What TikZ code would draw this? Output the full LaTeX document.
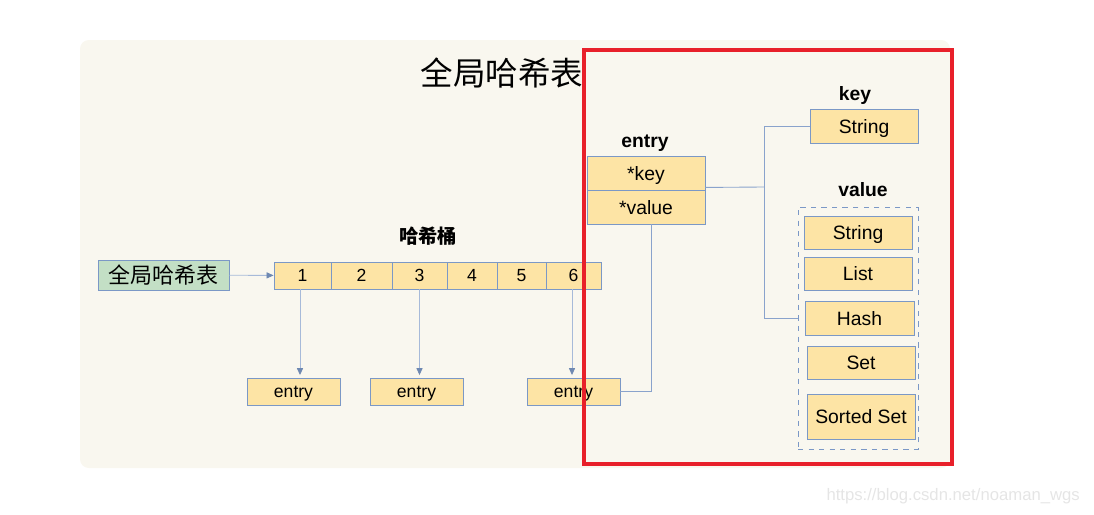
\documentclass[tikz,border=0pt]{standalone}
\usepackage{fontspec}
\setmainfont{Liberation Sans}
\newfontfamily\cjk{Noto Sans CJK SC}
\usepackage{tikz}
\usetikzlibrary{arrows.meta, positioning, calc}
\definecolor{panel}{HTML}{F9F7EF}
\definecolor{cellfill}{HTML}{FDE4A5}
\definecolor{cellline}{HTML}{7B98C6}
\definecolor{greenfill}{HTML}{C3DFC5}
\definecolor{linkline}{HTML}{8AA3CC}
\definecolor{redframe}{HTML}{E8202A}

\begin{document}
\begin{tikzpicture}[
			x=0.02cm, y=-0.02cm,
			every node/.style={font=\fontsize{11pt}{13pt}\selectfont},
			box/.style={draw=cellline, fill=cellfill, line width=0.5pt, inner sep=0pt, text depth=0pt, minimum width=2.16cm, minimum height=0.68cm},
			bucket/.style={draw=cellline, fill=cellfill, line width=0.5pt, inner sep=0pt, text depth=0pt, minimum height=0.54cm, font=\fontsize{10pt}{12pt}\selectfont},
			entrybox/.style={box, minimum width=1.86cm, minimum height=0.54cm, font=\fontsize{10pt}{12pt}\selectfont},
			head/.style={font=\fontsize{11pt}{13pt}\selectfont\bfseries},
			link/.style={draw=linkline, line width=0.5pt},
			arrow/.style={draw=linkline!75, line width=0.5pt, -{Triangle[length=4pt, width=3.5pt, fill=cellline!90!black, color=cellline!90!black]}},
			]
			
			\useasboundingbox (0,0) rectangle (1094,514);
			\fill[panel, rounded corners=5pt] (80,40) rectangle (950,468);
			
			\node (title) at (502,73) {\cjk\fontsize{18.5pt}{22pt}\selectfont 全局哈希表};
			
			% global table and buckets
			\node[draw=cellline, fill=greenfill, line width=0.5pt, minimum width=2.62cm, minimum height=0.6cm, inner sep=0pt] (gtable) at (163.5,275) {\cjk\fontsize{12.5pt}{14pt}\selectfont 全局哈希表};
			
			\node[head] (bkthead) at (428,236) {\cjk\bfseries 哈希桶};
			\node[bucket, minimum width=1.14cm] (b1) at (302.5,275.5) {1};
			\node[bucket, minimum width=1.22cm] (b2) at (361.5,275.5) {2};
			\node[bucket, minimum width=1.10cm] (b3) at (419.5,275.5) {3};
			\node[bucket, minimum width=1.00cm] (b4) at (472,275.5) {4};
			\node[bucket, minimum width=0.98cm] (b5) at (521.5,275.5) {5};
			\node[bucket, minimum width=1.10cm] (b6) at (573.5,275.5) {6};
			
			\draw[arrow] (gtable) -- (b1);
			
			\node[entrybox] (e1) at (293.5,391.5) {entry};
			\node[entrybox] (e2) at (416.5,391.5) {entry};
			\node[entrybox] (e3) at (573.5,391.5) {entry};
			
			\draw[arrow] ([xshift=-0.05cm]b1.south) -- ([xshift=-0.05cm, yshift=0.05cm]b1.south |- e1.north);
			\draw[arrow] (b3.south) -- ([yshift=0.05cm]b3.south |- e2.north);
			\draw[arrow] ([xshift=-0.03cm]b6.south) -- ([xshift=-0.03cm, yshift=0.05cm]b6.south |- e3.north);
			
			% entry structure
			\node[head] (entryhead) at (645,143) {entry};
			\node[box, minimum width=2.36cm] (ekey) at (646,173) {*key};
			\node[box, minimum width=2.36cm] (evalue) at (646,207) {*value};
			
			\node[head] (keyhead) at (855,95) {key};
			\node[box] (kstr) at (864,126) {String};
			
			\node[head] (valhead) at (863,190) {value};
			\node[draw=cellline, dashed, line width=0.5pt, minimum width=2.4cm, minimum height=4.84cm, inner sep=0pt] (vbox) at (858,328) {};
			\node[box, minimum height=0.66cm] (vstr) at (858,232.5) {String};
			\node[box, minimum height=0.66cm] (vlist) at (858,273.5) {List};
			\node[box, minimum width=2.18cm] (vhash) at (859.5,318) {Hash};
			\node[box, minimum height=0.66cm] (vset) at (861,362.5) {Set};
			\node[box, minimum height=0.9cm] (vsset) at (861,416.5) {Sorted Set};
			
			\coordinate (jn) at (764,187);
			\draw[link] ([yshift=0.06cm]ekey.south east) -- (jn);
			\draw[link] (kstr.west) -| (jn) |- (vhash -| vbox.west);
			\draw[link] ([xshift=0.1cm]evalue.south) |- (e3.east);
			
			\draw[redframe, line width=1.8pt] (584,50) rectangle (952,464);
			
			\node[anchor=east, text=gray!20, font=\fontsize{9.5pt}{11pt}\selectfont] (mark) at (1086,496) {https://blog.csdn.net/noaman\_wgs};
			
		\end{tikzpicture}
\end{document}
